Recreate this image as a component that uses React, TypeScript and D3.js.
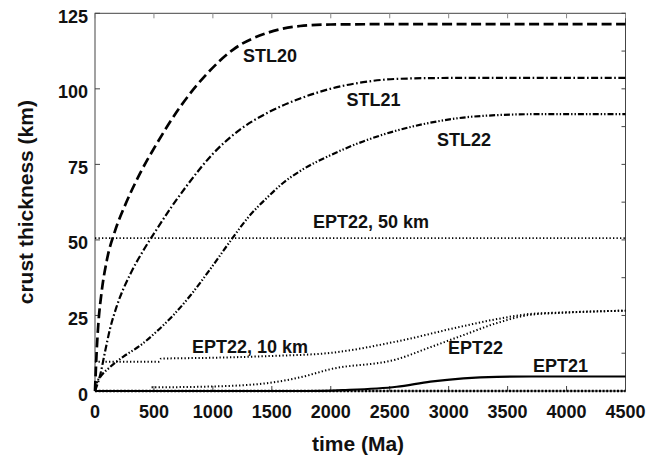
import React from "react";
import * as d3 from "d3";

// ---- data (time in Ma, crust thickness in km) ----
const stl20T = [0, 14, 28, 57, 99, 170, 250, 382, 526, 722, 950, 1172, 1460, 1740, 2000, 2500, 3000, 3500, 4000, 4500];
const stl20V = [0, 13, 22, 33, 43, 53, 61, 72, 82, 94, 105, 113, 118.5, 120.8, 121.3, 121.4, 121.4, 121.4, 121.4, 121.4];

const stl21T = [0, 14, 42, 85, 127, 184, 297, 410, 515, 650, 780, 1000, 1230, 1460, 1740, 1995, 2275, 2560, 3000, 3500, 4000, 4500];
const stl21V = [0, 1.5, 5, 13, 20.5, 28, 38.5, 46.5, 53, 61, 68, 78.5, 86.5, 92, 96.8, 100, 102.2, 103.3, 103.6, 103.6, 103.6, 103.6];

const stl22T = [0, 14, 42, 127, 238, 382, 526, 662, 807, 962, 1146, 1300, 1460, 1600, 1740, 1995, 2275, 2560, 2845, 3125, 3410, 3700, 4000, 4500];
const stl22V = [0, 2.6, 4.5, 7.9, 11.3, 15, 19.8, 25, 31.5, 39.5, 49.5, 57.5, 64, 69, 72.8, 78, 82.6, 86.2, 88.8, 90.5, 91.3, 91.6, 91.6, 91.6];

const ept22_50T = [0, 1000, 2000, 3000, 4000, 4500];
const ept22_50V = [50.6, 50.6, 50.6, 50.6, 50.6, 50.6];

const ept22_10T = [0, 540, 560, 1000, 1500, 1995, 2560, 3125, 3410, 3690, 3975, 4500];
const ept22_10V = [9.7, 9.7, 10.7, 11, 11.6, 12.6, 16.4, 21.5, 23.8, 25.5, 26, 26.6];

const ept22T = [480, 1000, 1460, 1750, 1995, 2560, 2845, 3125, 3410, 3690, 3975, 4500];
const ept22V = [1.2, 1.5, 2.6, 4.6, 7.2, 10.5, 14.5, 18.5, 22.5, 25.2, 25.9, 26.6];

const ept21T = [0, 1800, 2100, 2560, 2845, 3125, 3410, 3700, 4500];
const ept21V = [0, 0, 0.3, 1.4, 3.1, 4.2, 4.7, 4.8, 4.8];

const zeroT = [0, 4500];
const zeroV = [0, 0];

const xTicks = [0, 500, 1000, 1500, 2000, 2500, 3000, 3500, 4000, 4500];
const yTicks = [0, 25, 50, 75, 100, 125];
const yMinorTicks = [12.5, 37.5, 62.5, 87.5, 112.5];

const labelText = ["STL20", "STL21", "STL22", "EPT22, 50 km", "EPT22, 10 km", "EPT22", "EPT21"];
const labelT = [1255, 2133, 2901, 1849, 823, 2994, 3715];
const labelV = [108.9, 94.3, 81.1, 53.9, 12.6, 12.2, 6.3];

// ---- layout ----
const W = 660;
const H = 457;
const left = 95;
const right = 625.5;
const top = 13.3;
const bottom = 391;
const FONT = "'Liberation Sans', Arial, Helvetica, sans-serif";

type S = { t: number[]; v: number[]; dash: string | null; width: number };

const series: S[] = [
  { t: zeroT, v: zeroV, dash: "2,1.6", width: 2.6 },
  { t: ept21T, v: ept21V, dash: null, width: 2.2 },
  { t: ept22T, v: ept22V, dash: "1.3,2.2", width: 2 },
  { t: ept22_10T, v: ept22_10V, dash: "1.3,2.2", width: 2 },
  { t: ept22_50T, v: ept22_50V, dash: "1.3,2.2", width: 1.8 },
  { t: stl22T, v: stl22V, dash: "6,2,1.4,2,1.4,2", width: 2.2 },
  { t: stl21T, v: stl21V, dash: "7,2.5,1.6,2.5", width: 2.2 },
  { t: stl20T, v: stl20V, dash: "10,4.5", width: 2.7 },
];

export default function App() {
  const x = d3.scaleLinear().domain([0, 4500]).range([left, right]);
  const y = d3.scaleLinear().domain([0, 125]).range([bottom, top]);
  const line = d3
    .line<[number, number]>()
    .x((d) => x(d[0]))
    .y((d) => y(d[1]))
    .curve(d3.curveMonotoneX);

  const axisColor = "#444";

  return (
    <svg
      width={W}
      height={H}
      viewBox={`0 0 ${W} ${H}`}
      style={{ position: "absolute", left: 0, top: 0, background: "#fff" }}
    >
      <rect x={0} y={0} width={W} height={H} fill="#fff" />
      {/* frame */}
      <rect x={left} y={top} width={right - left} height={bottom - top} fill="none" stroke={axisColor} strokeWidth={1} />
      {/* ticks */}
      {xTicks.map((t) => (
        <g key={"xt" + t}>
          <line x1={x(t)} x2={x(t)} y1={bottom} y2={bottom - 5} stroke={axisColor} strokeWidth={1} />
          <line x1={x(t)} x2={x(t)} y1={top} y2={top + 5} stroke="#888" strokeWidth={1} />
          <text
            x={x(t)}
            y={418}
            textAnchor="middle"
            fontFamily={FONT}
            fontWeight="bold"
            fontSize={18}
            fill="#111"
          >
            {t}
          </text>
        </g>
      ))}
      {yTicks.map((v) => (
        <g key={"yt" + v}>
          <line x1={left} x2={left + 5} y1={y(v)} y2={y(v)} stroke={axisColor} strokeWidth={1} />
          <line x1={right} x2={right - 4} y1={y(v)} y2={y(v)} stroke={axisColor} strokeWidth={1} />
          <text
            x={88}
            y={y(v) + 9.5}
            textAnchor="end"
            fontFamily={FONT}
            fontWeight="bold"
            fontSize={18}
            fill="#111"
          >
            {v}
          </text>
        </g>
      ))}
      {yMinorTicks.map((v) => (
        <line key={"ym" + v} x1={right} x2={right - 4} y1={y(v)} y2={y(v)} stroke={axisColor} strokeWidth={1} />
      ))}
      {/* series */}
      {series.map((s, i) => (
        <path
          key={"s" + i}
          d={line(s.t.map((t, j) => [t, s.v[j]] as [number, number])) || ""}
          fill="none"
          stroke="#000"
          strokeWidth={s.width}
          strokeDasharray={s.dash || undefined}
        />
      ))}
      {/* labels */}
      {labelText.map((txt, i) => (
        <text
          key={"l" + i}
          x={x(labelT[i])}
          y={y(labelV[i])}
          fontFamily={FONT}
          fontWeight="bold"
          fontSize={18}
          fill="#111"
        >
          {txt}
        </text>
      ))}
      {/* axis titles */}
      <text
        x={358}
        y={451}
        textAnchor="middle"
        fontFamily={FONT}
        fontWeight="bold"
        fontSize={21}
        fill="#111"
      >
        time (Ma)
      </text>
      <text
        transform={`translate(33, ${(top + bottom) / 2}) rotate(-90)`}
        textAnchor="middle"
        fontFamily={FONT}
        fontWeight="bold"
        fontSize={21}
        fill="#111"
      >
        crust thickness (km)
      </text>
    </svg>
  );
}
